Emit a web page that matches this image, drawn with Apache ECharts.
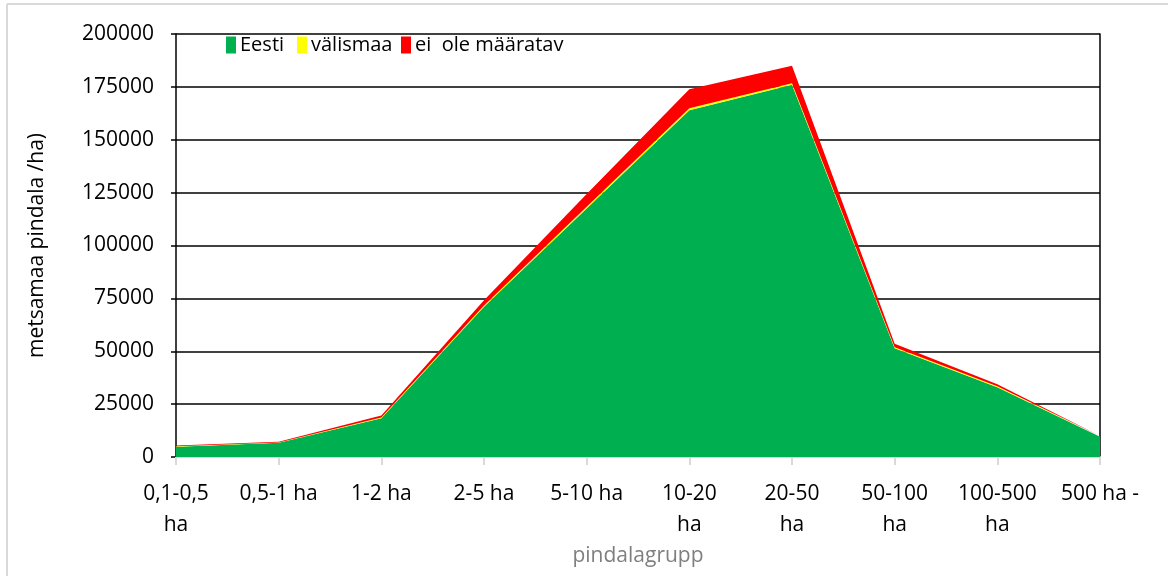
<!DOCTYPE html>
<html>
<head>
<meta charset="utf-8">
<script src="https://cdn.jsdelivr.net/npm/echarts@6/dist/echarts.min.js"></script>
<style>
  html, body { margin: 0; padding: 0; background: #fff; }
  #chart { width: 1168px; height: 576px; }
</style>
</head>
<body>
<div id="chart"></div>
<script>
const categories = ['0,1-0,5\nha', '0,5-1 ha', '1-2 ha', '2-5 ha', '5-10 ha', '10-20\nha', '20-50\nha', '50-100\nha', '100-500\nha', '500 ha -']
const eesti = [4800, 6700, 18300, 71000, 117500, 164000, 176000, 51400, 33000, 9600]
const valismaa = [300, 200, 400, 600, 800, 900, 700, 500, 400, 100]
const maaratav = [300, 300, 900, 2500, 6000, 9000, 8300, 1600, 1000, 200]
const seriesNames = ['Eesti', 'välismaa', 'ei  ole määratav']
const yTicks = { min: 0, max: 200000, interval: 25000 }

const font = "'Open Sans', 'Noto Sans', sans-serif"
const colors = ['#00b050', '#ffff00', '#ff0000']
const legendLeft = [226, 297, 401]

const chart = echarts.init(document.getElementById('chart'))

function areaSeries(i, data) {
  return {
    name: seriesNames[i],
    type: 'line',
    stack: 'total',
    data: data,
    symbol: 'none',
    lineStyle: { width: 0 },
    areaStyle: { color: colors[i], opacity: 1 },
    itemStyle: { color: colors[i] },
    animation: false
  }
}

// one legend per item so each sits where Excel put it
const legends = seriesNames.map((n, i) => ({
  left: legendLeft[i],
  top: 35,
  padding: 0,
  itemWidth: 10,
  itemHeight: 17,
  itemGap: 0,
  icon: 'rect',
  selectedMode: false,
  textStyle: { fontSize: 20, color: '#000', padding: [0, 0, 0, -1] },
  data: [n]
}))

chart.setOption({
  backgroundColor: '#fff',
  textStyle: { fontFamily: font },
  grid: { left: 176, right: 68, top: 34, bottom: 119 },
  legend: legends,
  xAxis: {
    type: 'category',
    boundaryGap: false,
    data: categories,
    name: 'pindalagrupp',
    nameLocation: 'middle',
    nameGap: 84,
    nameTextStyle: { color: '#7f7f7f', fontSize: 21 },
    axisLine: { lineStyle: { color: '#d9d9d9', width: 2 } },
    axisTick: { show: true, length: 8, lineStyle: { color: '#d9d9d9', width: 2 } },
    axisLabel: { color: '#000', fontSize: 21, lineHeight: 31, margin: 22, interval: 0 },
    splitLine: { show: false }
  },
  yAxis: [{
    type: 'value',
    min: yTicks.min,
    max: yTicks.max,
    interval: yTicks.interval,
    name: 'metsamaa pindala /ha)',
    nameLocation: 'middle',
    nameGap: 128,
    nameTextStyle: { color: '#000', fontSize: 21 },
    axisLine: { show: true, lineStyle: { color: '#000', width: 1.5 } },
    axisTick: { show: true, length: 5, lineStyle: { color: '#000', width: 1.5 } },
    axisLabel: { color: '#000', fontSize: 21, margin: 22, formatter: v => String(v) },
    splitLine: { show: true, lineStyle: { color: '#000', width: 1.5 } }
  }, {
    // right border of the plot area
    type: 'value',
    position: 'right',
    min: yTicks.min,
    max: yTicks.max,
    interval: yTicks.interval,
    axisLine: { show: true, lineStyle: { color: '#000', width: 1.5 } },
    axisTick: { show: false },
    axisLabel: { show: false },
    splitLine: { show: false }
  }],
  graphic: [
    { type: 'line', shape: { x1: 7, y1: 4, x2: 1168, y2: 4 }, style: { stroke: '#d9d9d9', lineWidth: 2 } },
    { type: 'line', shape: { x1: 7, y1: 4, x2: 7, y2: 576 }, style: { stroke: '#d9d9d9', lineWidth: 2 } }
  ],
  series: [
    areaSeries(0, eesti),
    areaSeries(1, valismaa),
    areaSeries(2, maaratav)
  ]
})
</script>
</body>
</html>
